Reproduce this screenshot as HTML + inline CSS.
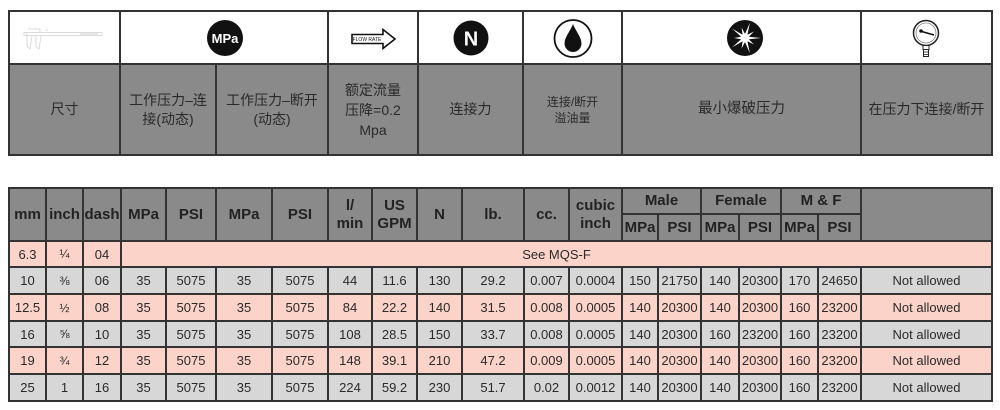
<!DOCTYPE html>
<html><head><meta charset="utf-8">
<style>
html,body{margin:0;padding:0;background:#fff;width:1000px;height:410px;overflow:hidden}
body{position:relative;font-family:"Liberation Sans","Noto Sans CJK SC",sans-serif;color:#2a2a2a}
.g{position:absolute;left:8px;display:grid;background:#333;padding:2px;gap:2px;box-sizing:border-box;width:985px}
.g>div{display:flex;align-items:center;justify-content:center;text-align:center;overflow:hidden;white-space:nowrap}
#top{top:10px;height:146px;grid-template-columns:109px 94px 110px 88px 103px 97px 237px 129px;grid-template-rows:51px 89px}
#top .h{font-size:14px;line-height:19px}
.w{background:#fff}
.h{background:#8a8a8a}
#bot{top:187px;height:215px;grid-template-columns:35px 35px 36px 43px 48px 54px 54px 42px 43px 43px 60px 43px 51px 34px 41px 36px 40px 35px 41px 129px;grid-template-rows:24px 25px 24px 25px 25px 24px 25px 25px;font-size:13px}
#bot .h{font-weight:bold;font-size:15px;line-height:18px;color:#222}
#bot .p{background:#fcd3c8}
#bot .l{background:#d7d7d7}
.r2{grid-row:span 2}
.c2{grid-column:span 2}
.f{font-size:12px}
</style></head><body>

<div class="g" id="top">
  <div class="w"></div>
  <div class="w c2"></div>
  <div class="w"></div>
  <div class="w"></div>
  <div class="w"></div>
  <div class="w"></div>
  <div class="w"></div>
  <div class="h">尺寸</div>
  <div class="h">工作压力–连<br>接(动态)</div>
  <div class="h">工作压力–断开<br>(动态)</div>
  <div class="h" style="line-height:20px">额定流量<br>压降=0.2<br>Mpa</div>
  <div class="h">连接力</div>
  <div class="h" style="font-size:12px;line-height:16px">连接/断开<br>溢油量</div>
  <div class="h" style="font-size:14.5px">最小爆破压力</div>
  <div class="h" style="font-size:14px">在压力下连接/断开</div>
</div>

<svg style="position:absolute;left:0;top:0" width="1000" height="410">
  <!-- caliper -->
  <g stroke="#d2d2d2" stroke-width="0.8" fill="none">
    <rect x="24" y="32.5" width="78" height="3"/>
    <line x1="80" y1="34" x2="98" y2="34" stroke="#bbb"/>
    <path d="M27,32 L27,46 L30,49 L32,36"/>
    <path d="M36,36 L36,47 L39,49 L41,36"/>
    <path d="M28,29 L40,29 L40,32"/>
    <line x1="45" y1="30" x2="48" y2="30"/>
  </g>
  <!-- MPa -->
  <circle cx="225" cy="38" r="18" fill="#111"/>
  <text x="225" y="43" fill="#fff" font-family="Liberation Sans Narrow, Liberation Sans, sans-serif" font-weight="bold" font-size="13" text-anchor="middle">MPa</text>
  <!-- flow rate -->
  <path d="M352,34.5 L383,34.5 L383,29.5 L395,39 L383,48.5 L383,43.5 L352,43.5 Z" fill="#fff" stroke="#111" stroke-width="1.6"/>
  <text x="367" y="41" font-family="Liberation Sans, sans-serif" font-size="5" text-anchor="middle" fill="#111">FLOW RATE</text>
  <!-- N -->
  <circle cx="471" cy="38" r="17.5" fill="#111"/>
  <text x="471" y="45.5" fill="#fff" font-family="Liberation Sans, sans-serif" font-weight="bold" font-size="20" text-anchor="middle">N</text>
  <!-- drop -->
  <circle cx="573" cy="38.5" r="18.5" fill="#fff" stroke="#111" stroke-width="1.8"/>
  <path d="M573,24 C571,30 564.5,37 564.5,43.5 A8.5 8.5 0 0 0 581.5 43.5 C581.5,37 575,30 573,24Z" fill="#111"/>
  <!-- burst -->
  <circle cx="745" cy="38" r="18" fill="#111"/>
  <polygon fill="#fff" points="761,38 748.8,39.2 753.9,44.5 747.4,41.2 749.9,53.2 745,42 741.6,48.5 742.6,41.2 732.1,47.4 741.2,39.2 734,38 741.2,36.8 732.1,28.6 742.6,34.8 741.6,27.5 745,34 749.9,22.8 747.4,34.8 753.9,31.5 748.8,36.8"/>
  <circle cx="745" cy="38" r="4.5" fill="#fff"/>
  <!-- gauge -->
  <circle cx="926" cy="33" r="12.5" fill="#fff" stroke="#222" stroke-width="1.5"/>
  <circle cx="926" cy="33" r="10" fill="none" stroke="#555" stroke-width="0.6"/>
  <line x1="920" y1="31" x2="934" y2="35" stroke="#111" stroke-width="1.6"/>
  <circle cx="921" cy="31" r="1.8" fill="#111"/>
  <rect x="923" y="45.5" width="6" height="4" fill="#fff" stroke="#222" stroke-width="1"/>
  <rect x="923.5" y="49.5" width="5" height="7" fill="#fff" stroke="#222" stroke-width="1"/>
  <line x1="923.5" y1="52" x2="928.5" y2="52" stroke="#222" stroke-width="0.8"/>
  <line x1="923.5" y1="54.5" x2="928.5" y2="54.5" stroke="#222" stroke-width="0.8"/>
</svg>

<div class="g" id="bot">
  <div class="h r2">mm</div>
  <div class="h r2">inch</div>
  <div class="h r2">dash</div>
  <div class="h r2">MPa</div>
  <div class="h r2">PSI</div>
  <div class="h r2">MPa</div>
  <div class="h r2">PSI</div>
  <div class="h r2">l/<br>min</div>
  <div class="h r2">US<br>GPM</div>
  <div class="h r2">N</div>
  <div class="h r2">lb.</div>
  <div class="h r2">cc.</div>
  <div class="h r2">cubic<br>inch</div>
  <div class="h c2">Male</div>
  <div class="h c2">Female</div>
  <div class="h c2">M &amp; F</div>
  <div class="h r2"></div>
  <div class="h">MPa</div><div class="h">PSI</div>
  <div class="h">MPa</div><div class="h">PSI</div>
  <div class="h">MPa</div><div class="h">PSI</div>

  <div class="p">6.3</div><div class="p f">¼</div><div class="p">04</div>
  <div class="p" style="grid-column:span 17">See MQS-F</div>

  <div class="l">10</div><div class="l f">⅜</div><div class="l">06</div><div class="l">35</div><div class="l">5075</div><div class="l">35</div><div class="l">5075</div><div class="l">44</div><div class="l">11.6</div><div class="l">130</div><div class="l">29.2</div><div class="l">0.007</div><div class="l">0.0004</div><div class="l">150</div><div class="l">21750</div><div class="l">140</div><div class="l">20300</div><div class="l">170</div><div class="l">24650</div><div class="l">Not allowed</div>

  <div class="p">12.5</div><div class="p f">½</div><div class="p">08</div><div class="p">35</div><div class="p">5075</div><div class="p">35</div><div class="p">5075</div><div class="p">84</div><div class="p">22.2</div><div class="p">140</div><div class="p">31.5</div><div class="p">0.008</div><div class="p">0.0005</div><div class="p">140</div><div class="p">20300</div><div class="p">140</div><div class="p">20300</div><div class="p">160</div><div class="p">23200</div><div class="p">Not allowed</div>

  <div class="l">16</div><div class="l f">⅝</div><div class="l">10</div><div class="l">35</div><div class="l">5075</div><div class="l">35</div><div class="l">5075</div><div class="l">108</div><div class="l">28.5</div><div class="l">150</div><div class="l">33.7</div><div class="l">0.008</div><div class="l">0.0005</div><div class="l">140</div><div class="l">20300</div><div class="l">160</div><div class="l">23200</div><div class="l">160</div><div class="l">23200</div><div class="l">Not allowed</div>

  <div class="p">19</div><div class="p f">¾</div><div class="p">12</div><div class="p">35</div><div class="p">5075</div><div class="p">35</div><div class="p">5075</div><div class="p">148</div><div class="p">39.1</div><div class="p">210</div><div class="p">47.2</div><div class="p">0.009</div><div class="p">0.0005</div><div class="p">140</div><div class="p">20300</div><div class="p">140</div><div class="p">20300</div><div class="p">160</div><div class="p">23200</div><div class="p">Not allowed</div>

  <div class="l">25</div><div class="l">1</div><div class="l">16</div><div class="l">35</div><div class="l">5075</div><div class="l">35</div><div class="l">5075</div><div class="l">224</div><div class="l">59.2</div><div class="l">230</div><div class="l">51.7</div><div class="l">0.02</div><div class="l">0.0012</div><div class="l">140</div><div class="l">20300</div><div class="l">140</div><div class="l">20300</div><div class="l">160</div><div class="l">23200</div><div class="l">Not allowed</div>
</div>
</body></html>
